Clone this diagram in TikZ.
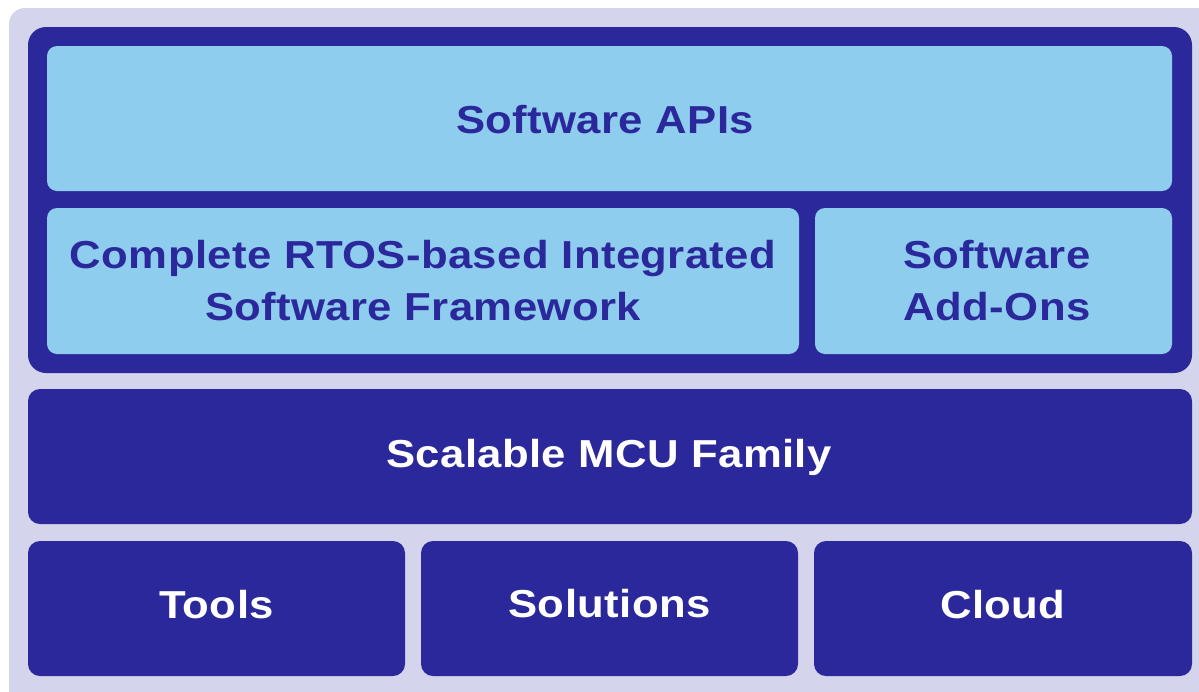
\documentclass[tikz,border=0pt]{standalone}
\usepackage{fontspec}
\setmainfont{Liberation Sans}[FakeStretch=1.12, LetterSpace=1]
\definecolor{lav}{HTML}{D4D4EC}
\definecolor{navy}{HTML}{2B289C}
\definecolor{sky}{HTML}{8ECDEE}
\tikzset{
  darkbox/.style={fill=navy, draw=none, rounded corners=12pt},
  lightbox/.style={fill=sky, draw=none, rounded corners=10pt},
  darklabel/.style={text=white, font=\fontsize{39}{52}\selectfont\bfseries, align=center},
  lightlabel/.style={text=navy, font=\fontsize{39}{52}\selectfont\bfseries, align=center}
}
\begin{document}
\begin{tikzpicture}[x=1pt, y=-1pt]
\useasboundingbox (0,0) rectangle (1199,691);
% backdrop
\begin{scope}
\clip (0,0) rectangle (1199,691);
\fill[lav, rounded corners=16pt] (9,8) rectangle (1230,720);
\end{scope}
% software stack frame
\fill[darkbox, rounded corners=18pt] (28,27) rectangle (1192,373);
\fill[lightbox] (47,46) rectangle (1172,191);
\fill[lightbox] (47,208) rectangle (799,354);
\fill[lightbox] (815,208) rectangle (1172,354);
\node[lightlabel] (api) at (605,120) {Software APIs};
\node[lightlabel] (rtos) at (423,281) {Complete RTOS-based Integrated\\Software Framework};
\node[lightlabel] (addon) at (997,281) {Software\\Add-Ons};
% hardware layer
\fill[darkbox] (28,389) rectangle (1192,524);
\node[darklabel] (mcu) at (609,457) {Scalable MCU Family};
% bottom row
\fill[darkbox] (28,541) rectangle (405,676);
\fill[darkbox] (421,541) rectangle (798,676);
\fill[darkbox] (814,541) rectangle (1192,676);
\node[darklabel] (tools) at (216.5,605) {Tools};
\node[darklabel] (sol) at (609.5,604) {Solutions};
\node[darklabel] (cloud) at (1003,605) {Cloud};
\end{tikzpicture}
\end{document}
